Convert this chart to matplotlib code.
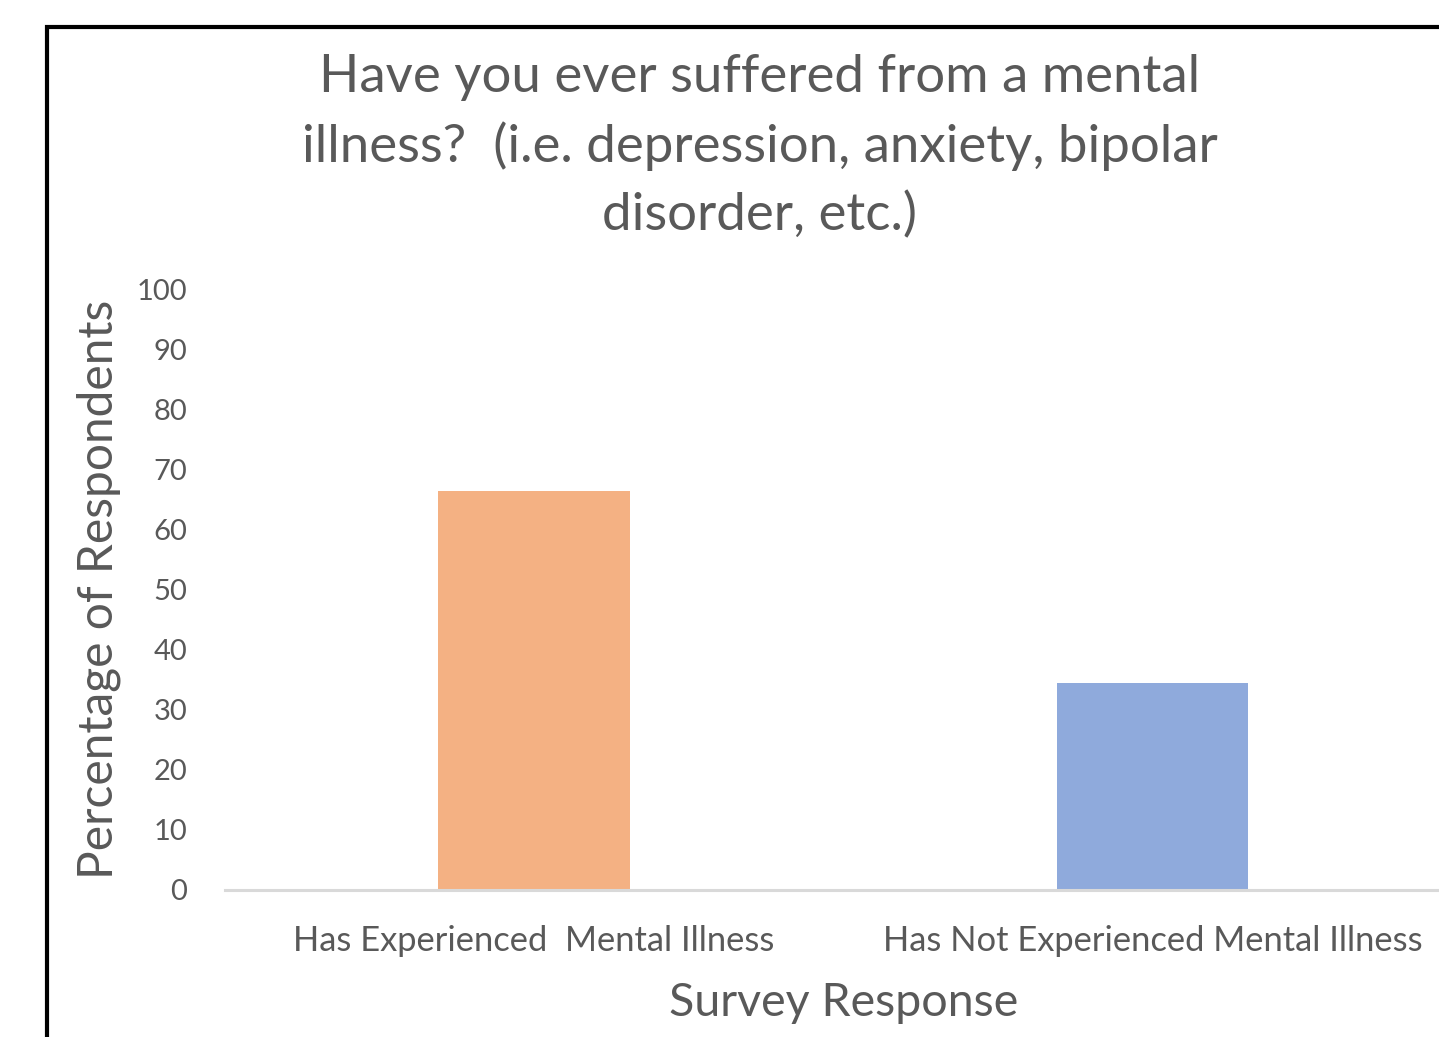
import matplotlib
matplotlib.use("Agg")
import matplotlib.pyplot as plt
from matplotlib.patches import Rectangle

# data
categories = ["Has Experienced  Mental Illness", "Has Not Experienced Mental Illness"]
percentages = [66.4, 34.4]
bar_colors = ["#F4B183", "#8FAADC"]
y_ticks = [0, 10, 20, 30, 40, 50, 60, 70, 80, 90, 100]

title = ("Have you ever suffered from a mental\n"
         "illness?  (i.e. depression, anxiety, bipolar\n"
         "disorder, etc.)")

plt.rcParams['font.family'] = ['Lato', 'DejaVu Sans']
grey = "#595959"

W, H = 1439, 1037
fig = plt.figure(figsize=(W / 100, H / 100), dpi=100)

# plot area runs past the right edge of the picture (cropped screenshot)
ax = fig.add_axes([225 / W, 1 - 889.5 / H, 1236.5 / W, 600.5 / H])
x = range(len(categories))
ax.bar(x, percentages, width=0.31, color=bar_colors)
ax.set_xlim(-0.5, 1.5)
ax.set_ylim(0, 100)
ax.set_yticks(y_ticks)
ax.set_xticks(list(x))
ax.set_xticklabels(categories)

for s in ["top", "right", "left"]:
    ax.spines[s].set_visible(False)
ax.spines["bottom"].set_color("#D9D9D9")
ax.spines["bottom"].set_linewidth(2.2)
ax.tick_params(axis="y", length=0, pad=27, labelsize=21, labelcolor=grey)
ax.tick_params(axis="x", length=0, pad=25.5, labelsize=24.8, labelcolor=grey)

ax.set_ylabel("Percentage of Respondents", fontsize=34.5, color=grey)
ax.yaxis.set_label_coords(-(225 - 121) / 1236.5, 0.5)
ax.set_xlabel("Survey Response", fontsize=33.5, color=grey, labelpad=18)

fig.text(760 / W, 1 - 147 / H, title, ha="center", va="center",
         fontsize=38, color=grey, linespacing=1.5)

# chart border, cut off at right and bottom
fig.patches.append(Rectangle((46.5 / W, -0.2), 1.2, 1.2 - 26.5 / H,
                             transform=fig.transFigure, fill=False,
                             edgecolor="black", linewidth=3, clip_on=False))

fig.savefig("out.png", dpi=100, facecolor="white")
